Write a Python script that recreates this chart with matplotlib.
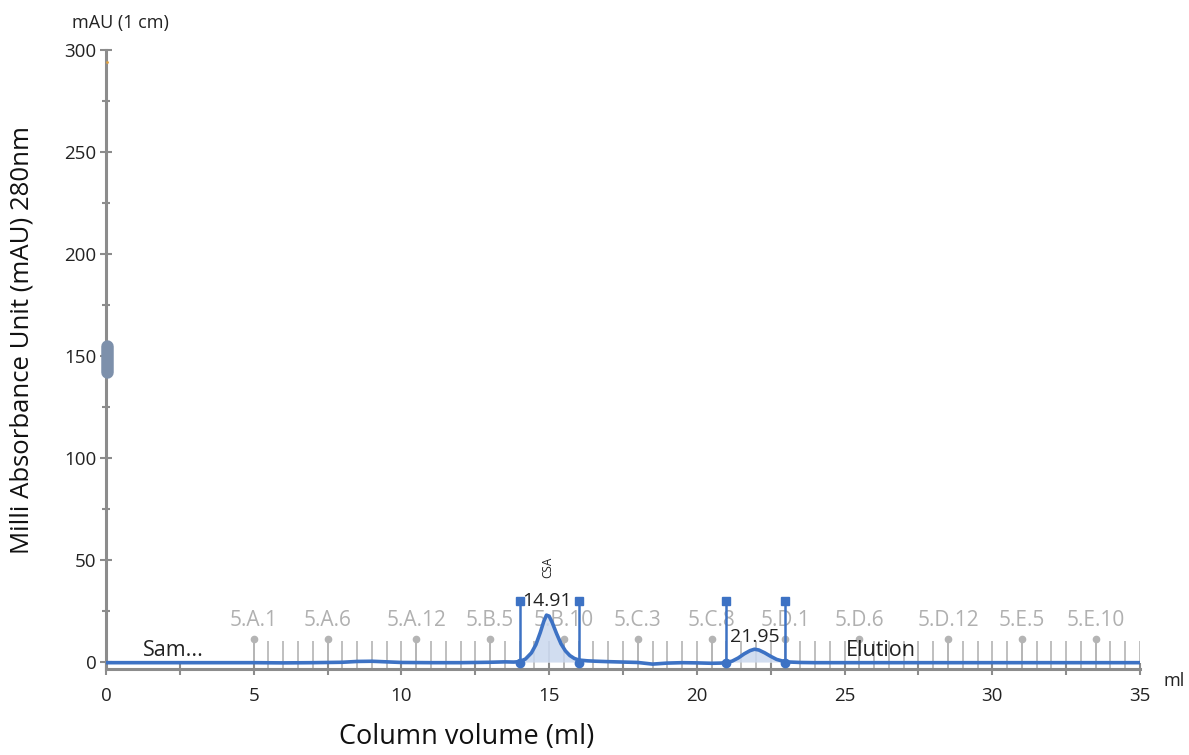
import matplotlib
matplotlib.use("Agg")
import matplotlib.pyplot as plt

# UV 280 nm trace (ml, mAU)
volume = [0, 1, 2, 3, 4, 5, 6, 7, 8, 8.5, 9, 9.5, 10, 11, 12, 13, 13.5, 13.8,
          14.0, 14.2, 14.4, 14.55, 14.7, 14.82, 14.91, 15.0, 15.1, 15.25,
          15.4, 15.55, 15.7, 15.85, 16.0, 16.3, 16.6, 17.0, 17.5, 18.0, 18.5,
          19.0, 19.5, 20.0, 20.5, 20.8, 21.0, 21.2, 21.4, 21.6, 21.8, 21.95,
          22.1, 22.3, 22.5, 22.7, 23.0, 23.5, 24, 25, 26, 27, 28, 29, 30, 31,
          32, 33, 34, 35]
absorbance = [-0.3, -0.3, -0.3, -0.3, -0.3, -0.3, -0.4, -0.3, -0.1, 0.3, 0.4,
              0.1, -0.2, -0.3, -0.3, -0.1, 0.1, 0.0,
              0.2, 1.5, 4.5, 8.5, 14.5, 20.0, 23.0, 22.5, 19.5, 14.0,
              9.0, 5.5, 3.2, 1.8, 1.0, 0.6, 0.4, 0.2, 0.0, -0.2, -1.0,
              -0.5, -0.3, -0.4, -0.6, -0.5, -0.3, 0.5, 2.0, 4.0, 5.6, 6.3,
              5.9, 4.5, 2.8, 1.3, 0.1, -0.2, -0.3, -0.3, -0.3, -0.3, -0.3,
              -0.3, -0.3, -0.3, -0.3, -0.3, -0.3, -0.3]

# Integrated peaks: (start ml, end ml, retention ml, label)
peak_start = [14.0, 21.0]
peak_end = [16.0, 23.0]
peak_retention = [14.91, 21.95]
peak_name = ["CSA", ""]
peak_label_y = [30.0, 12.3]

# Fraction collector: tubes every 0.5 ml from 5 to 35 ml, labelled every 5th
fraction_start = 5.0
fraction_step = 0.5
fraction_end = 35.0
fraction_labels = ["5.A.1", "5.A.6", "5.A.12", "5.B.5", "5.B.10", "5.C.3",
                   "5.C.8", "5.D.1", "5.D.6", "5.D.12", "5.E.5", "5.E.10"]
fraction_label_pos = [5.0, 7.5, 10.5, 13.0, 15.5, 18.0, 20.5, 23.0, 25.5,
                      28.5, 31.0, 33.5]

# Run phases
phase_names = ["Sam...", "Elution"]
phase_pos = [1.25, 25.05]

x_ticks = [0, 5, 10, 15, 20, 25, 30, 35]
y_ticks = [0, 50, 100, 150, 200, 250, 300]

line_blue = "#3d72c4"
axis_grey = "#8c8c8c"
frac_grey = "#b4b4b4"

plt.rcParams["font.family"] = ["Open Sans", "DejaVu Sans"]

W, H = 1189, 755
fig = plt.figure(figsize=(W / 100, H / 100), dpi=100)
ax = fig.add_axes([106 / W, 1 - 669 / H, (1140 - 106) / W, (669 - 50) / H])
ax.set_xlim(0, 35)
ax.set_ylim(-3.4, 300)
ybot = -3.4

# fraction tick marks
n_frac = int(round((fraction_end - fraction_start) / fraction_step)) + 1
frac_x = [fraction_start + i * fraction_step for i in range(n_frac)]
for fx in frac_x:
    ax.plot([fx, fx], [ybot, 10.5], color=frac_grey, lw=1.2, zorder=1,
            solid_capstyle="butt")
for fx, lab in zip(fraction_label_pos, fraction_labels):
    ax.plot([fx, fx], [ybot, 11.3], color=frac_grey, lw=1.2, zorder=1)
    ax.plot(fx, 11.3, "o", color=frac_grey, ms=4.5, zorder=1)
    ax.text(fx, 20.6, lab, ha="center", va="center", fontsize=15,
            color="#b0b0b0", zorder=1)

# peak shading
for s, e in zip(peak_start, peak_end):
    xs = [v for v in volume if s <= v <= e]
    ys = [a for v, a in zip(volume, absorbance) if s <= v <= e]
    ax.fill_between(xs, ys, 0, color="#c9d7ee", alpha=0.85, lw=0, zorder=2)

# trace
ax.plot(volume, absorbance, color=line_blue, lw=2.6, zorder=4)

# peak limit markers and labels
for s, e, r, name, ly in zip(peak_start, peak_end, peak_retention, peak_name,
                             peak_label_y):
    for px in (s, e):
        ax.plot([px, px], [-0.3, 30.0], color=line_blue, lw=1.8, zorder=5)
        ax.plot(px, 30.0, "s", color=line_blue, ms=5.5, zorder=5)
        ax.plot(px, -0.3, "o", color=line_blue, ms=6, zorder=5)
    ax.text(r, ly, f"{r:.2f}", ha="center", va="center", fontsize=14,
            color="#222222", zorder=6)
    if name:
        ax.text(r + 0.05, 46.5, name, ha="center", va="center", fontsize=8.5,
                rotation=90, color="#222222", zorder=6)

# phase labels
for name, px in zip(phase_names, phase_pos):
    ax.text(px, 5.8, name, ha="left", va="center", fontsize=15.5,
            color="#222222", zorder=6)

# injection marker on the y axis
ax.plot([0.05, 0.05], [142, 155], color="#7d90ab", lw=9,
        solid_capstyle="round", clip_on=False, zorder=7)
ax.plot(0.03, 294, ".", color="#e0a040", ms=2, clip_on=False, zorder=7)

# axes styling
for sp in ("top", "right"):
    ax.spines[sp].set_visible(False)
for sp in ("left", "bottom"):
    ax.spines[sp].set_color(axis_grey)
    ax.spines[sp].set_linewidth(2.2)

ax.set_xticks(x_ticks)
ax.set_xticks([2.5, 7.5, 12.5, 17.5, 22.5, 27.5, 32.5], minor=True)
ax.set_yticks(y_ticks)
ax.set_yticks([25, 75, 125, 175, 225, 275], minor=True)
ax.tick_params(axis="both", which="both", direction="inout", color=axis_grey,
               width=1.5, labelsize=13.5, labelcolor="#222222")
ax.tick_params(axis="x", which="major", length=8, pad=9)
ax.tick_params(axis="x", which="minor", length=8)
ax.tick_params(axis="y", which="major", length=8, pad=3)
ax.tick_params(axis="y", which="minor", length=6)

fig.text(120 / W, 1 - 23 / H, "mAU (1 cm)", ha="center", va="center",
         fontsize=13, color="#222222")
fig.text(1174 / W, 1 - 681 / H, "ml", ha="center", va="center",
         fontsize=13, color="#222222")
fig.text(22 / W, 1 - 340 / H, "Milli Absorbance Unit (mAU) 280nm",
         rotation=90, ha="center", va="center", fontsize=18.5, color="#111111")
fig.text(467 / W, 1 - 737 / H, "Column volume (ml)", ha="center",
         va="center", fontsize=19.5, color="#111111")

fig.savefig("out.png", dpi=100)
